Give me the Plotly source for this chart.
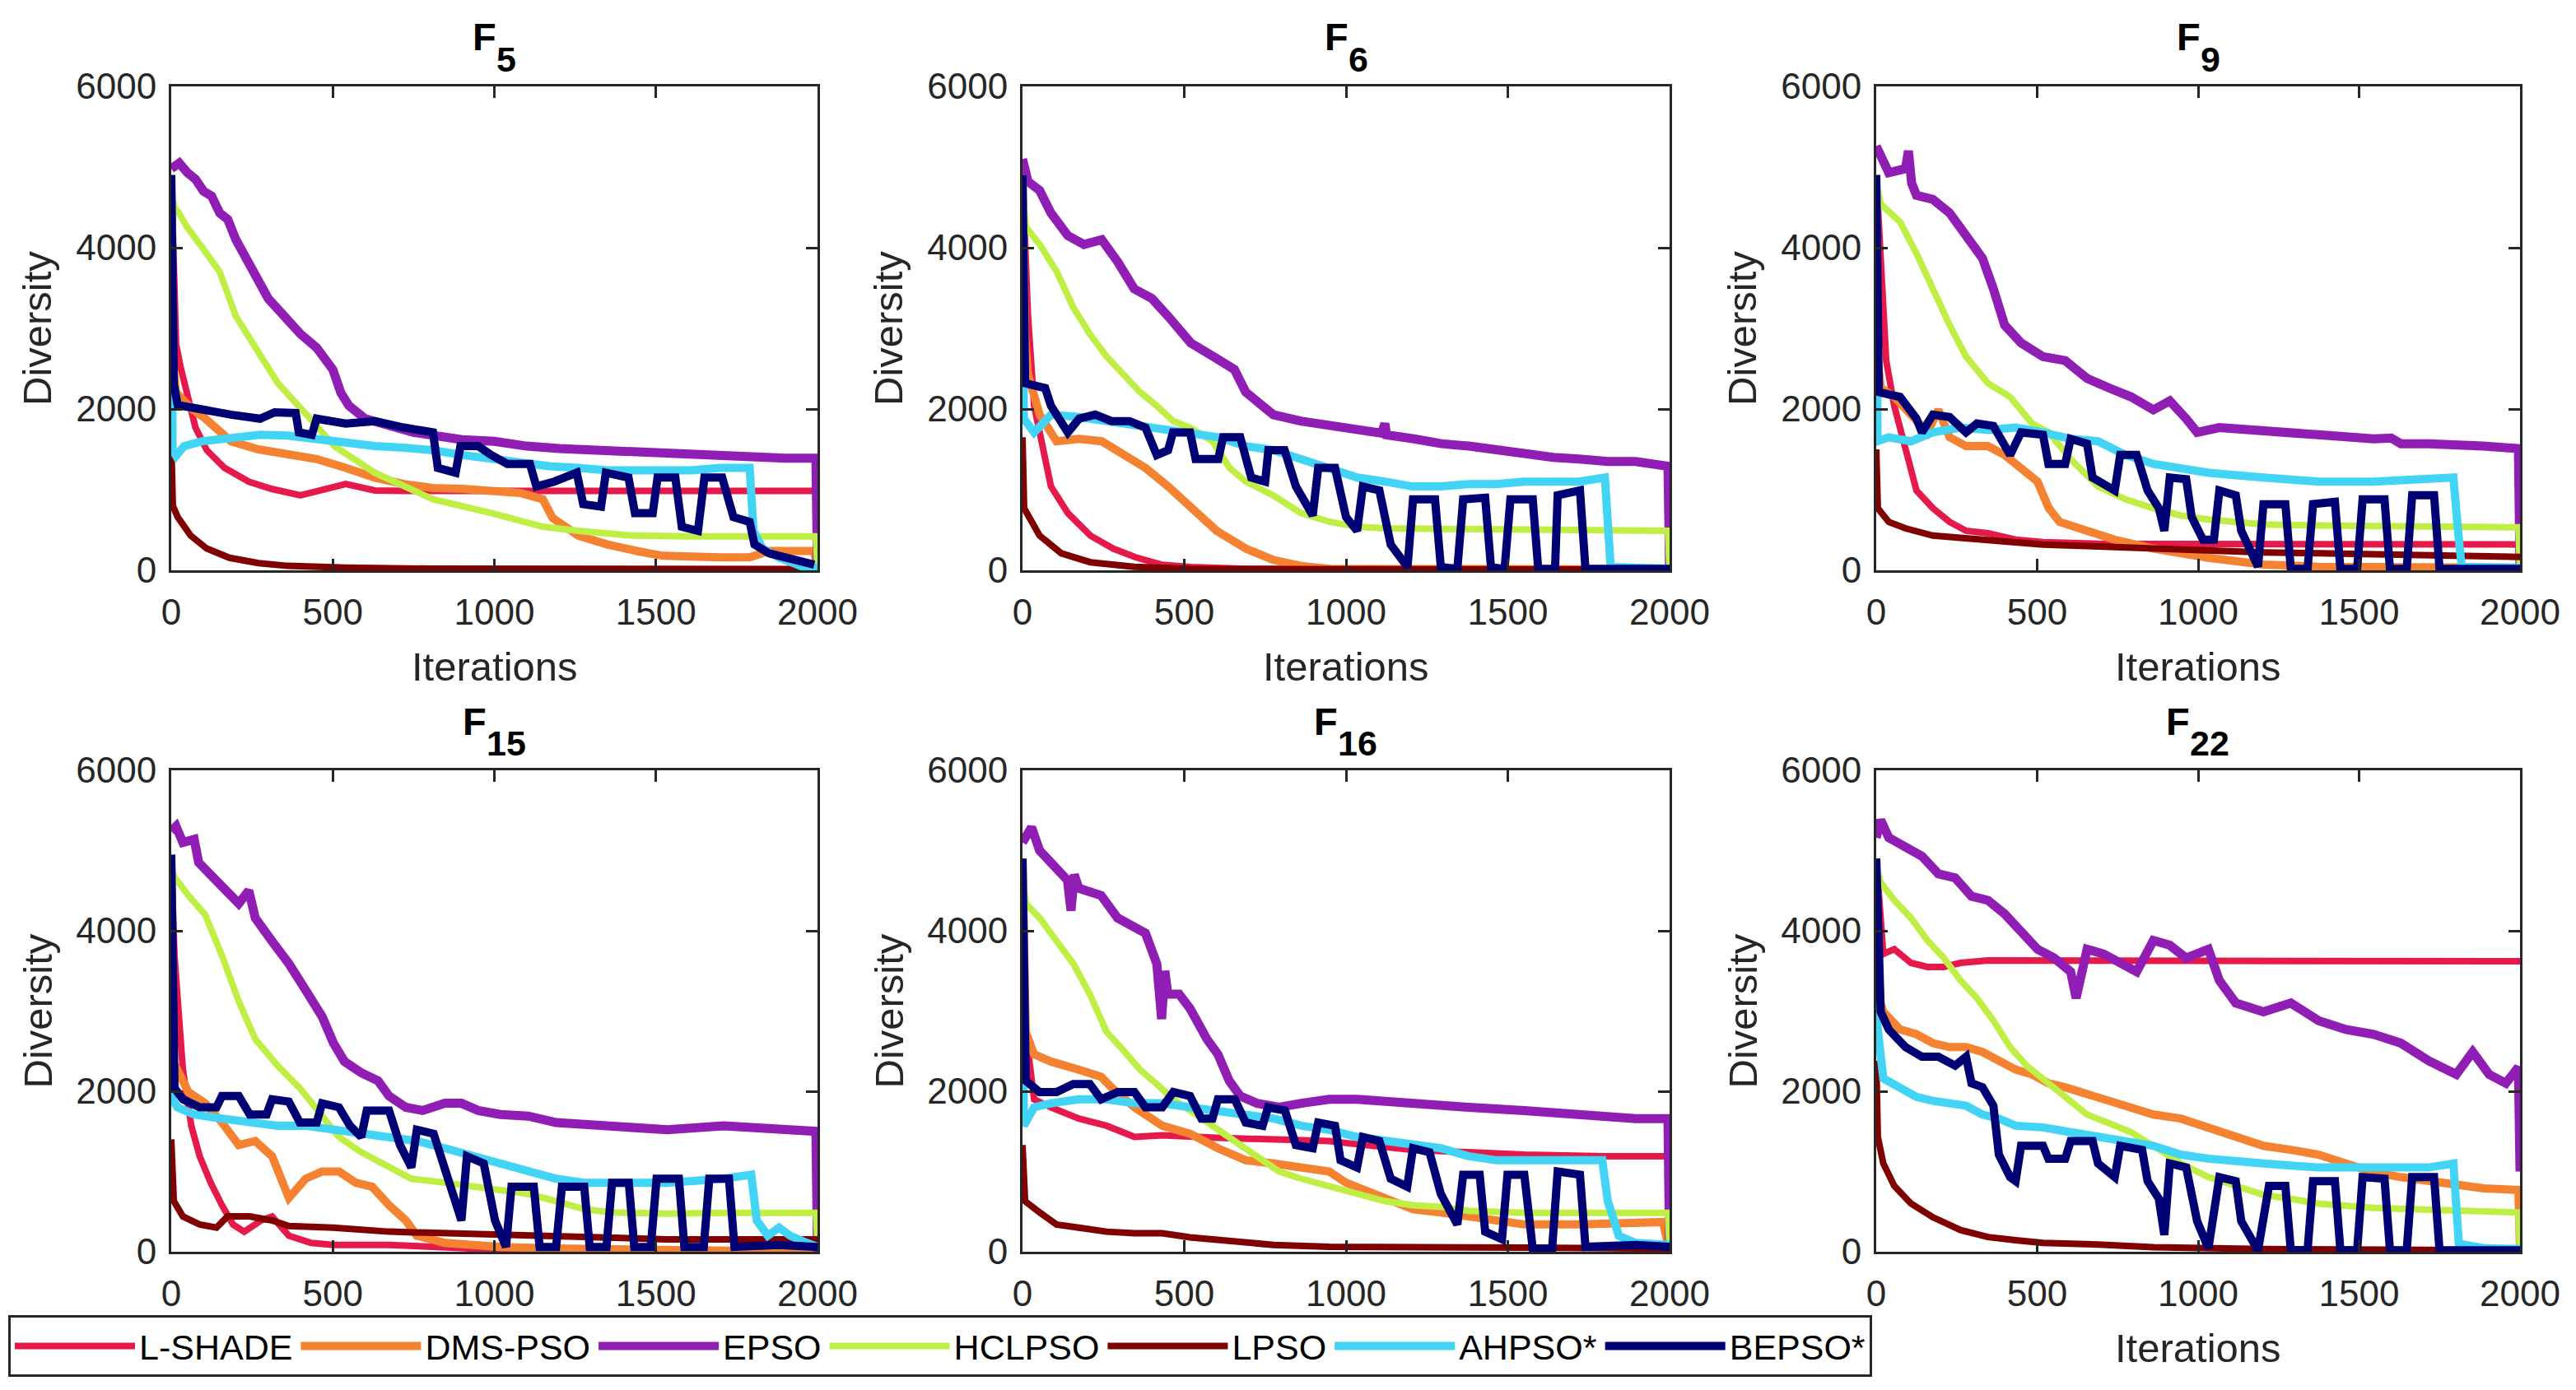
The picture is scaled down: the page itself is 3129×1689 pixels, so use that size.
import plotly.graph_objects as go

W, H = 3129, 1689

NAMES = ["L-SHADE", "DMS-PSO", "EPSO", "HCLPSO", "LPSO", "AHPSO*", "BEPSO*"]
COLORS = ["#e6194b", "#f58231", "#911eb4", "#bfef45", "#800000", "#42d4f4", "#000075"]
WIDTHS = [8, 10, 11, 8, 8, 10, 10]
FUNCS = ["5", "6", "9", "15", "16", "22"]
X_TICKS = [0, 500, 1000, 1500, 2000]
Y_TICKS = [0, 2000, 4000, 6000]

# (iteration, diversity) pairs
F5_LSHADE = [(0, 4900), (8, 3700), (15, 2800), (30, 2500), (50, 2150), (75, 1770), (110, 1490), (165, 1270),
             (240, 1100), (310, 1010), (400, 930), (470, 990), (540, 1070), (630, 990), (720, 985), (2000, 985)]
F5_DMSPSO = [(0, 4900), (5, 2600), (15, 2200), (40, 2100), (70, 1980), (100, 1900), (140, 1750), (185, 1600),
             (270, 1500), (360, 1430), (450, 1380), (540, 1270), (630, 1150), (720, 1070), (810, 1020), (900, 1010),
             (990, 990), (1080, 960), (1150, 880), (1180, 650), (1260, 430), (1350, 320), (1440, 240), (1520, 180),
             (1700, 160), (1790, 160), (1850, 240), (1990, 240), (2000, 0)]
F5_EPSO = [(0, 4980), (25, 5050), (50, 4930), (75, 4850), (100, 4700), (125, 4640), (150, 4430), (175, 4350),
           (200, 4100), (250, 3760), (300, 3370), (350, 3150), (400, 2930), (450, 2760), (500, 2490), (525, 2200),
           (550, 2040), (600, 1880), (650, 1820), (700, 1770), (750, 1710), (800, 1680), (850, 1650), (900, 1620),
           (1000, 1600), (1100, 1540), (1200, 1510), (1300, 1490), (1400, 1470), (1500, 1450), (1600, 1430),
           (1700, 1420), (1800, 1400), (1900, 1390), (1995, 1390), (2000, 0)]
F5_HCLPSO = [(0, 4700), (10, 4500), (25, 4420), (50, 4250), (100, 3980), (150, 3700), (200, 3150), (270, 2710),
             (330, 2320), (430, 1880), (505, 1540), (630, 1210), (720, 1040), (810, 880), (990, 710), (1150, 540),
             (1260, 490), (1430, 430), (1600, 420), (1995, 420), (2000, 0)]
F5_LPSO = [(0, 1600), (5, 800), (20, 660), (60, 430), (110, 270), (180, 155), (270, 90), (360, 55), (540, 33),
           (800, 20), (2000, 15)]
F5_AHPSO = [(0, 4900), (4, 1500), (15, 1420), (40, 1540), (95, 1600), (185, 1650), (275, 1680), (360, 1670),
            (450, 1630), (540, 1570), (630, 1540), (720, 1520), (810, 1490), (900, 1430), (990, 1380), (1080, 1350),
            (1170, 1290), (1260, 1270), (1350, 1240), (1610, 1240), (1700, 1270), (1790, 1270), (1802, 490),
            (1830, 270), (1880, 160), (1950, 50), (2000, 30)]
F5_BEPSO = [(0, 4900), (8, 2300), (20, 2050), (95, 1990), (185, 1930), (275, 1880), (320, 1960), (385, 1950),
            (395, 1710), (435, 1680), (450, 1880), (540, 1820), (630, 1850), (720, 1770), (810, 1710), (825, 1270),
            (880, 1210), (895, 1540), (950, 1540), (990, 1430), (1040, 1320), (1110, 1320), (1130, 1040),
            (1185, 1100), (1255, 1210), (1275, 820), (1330, 790), (1345, 1210), (1415, 1150), (1435, 710),
            (1490, 710), (1505, 1150), (1560, 1150), (1580, 540), (1630, 490), (1650, 1150), (1705, 1150),
            (1740, 660), (1790, 600), (1805, 320), (1850, 210), (1990, 70)]

F6_LSHADE = [(0, 4900), (8, 4000), (17, 3150), (36, 2040), (62, 1490), (88, 1040), (140, 710), (210, 430),
             (280, 270), (350, 160), (430, 70), (520, 40), (690, 17), (2000, 10)]
F6_DMSPSO = [(0, 4900), (8, 2900), (17, 2430), (53, 1930), (105, 1600), (175, 1630), (245, 1600), (310, 1430),
             (380, 1270), (450, 1040), (520, 770), (600, 490), (690, 270), (775, 130), (860, 55), (950, 17),
             (2000, 10)]
F6_EPSO = [(0, 5100), (17, 4820), (53, 4710), (88, 4430), (140, 4150), (190, 4040), (245, 4100), (295, 3820),
           (345, 3490), (400, 3370), (450, 3150), (520, 2820), (590, 2650), (655, 2490), (690, 2210), (725, 2100),
           (775, 1930), (860, 1850), (950, 1790), (1035, 1740), (1110, 1700), (1120, 1820), (1125, 1680),
           (1210, 1630), (1295, 1570), (1380, 1540), (1465, 1490), (1550, 1460), (1640, 1400), (1720, 1380),
           (1810, 1350), (1895, 1350), (1995, 1290), (2000, 0)]
F6_HCLPSO = [(0, 4700), (10, 4260), (53, 4040), (105, 3710), (157, 3260), (208, 2930), (260, 2650), (312, 2430),
             (363, 2210), (415, 2040), (466, 1850), (518, 1770), (587, 1600), (640, 1270), (690, 1100), (775, 930),
             (860, 710), (950, 600), (1035, 540), (1120, 520), (1995, 490), (2000, 0)]
F6_LPSO = [(0, 1650), (5, 770), (53, 430), (120, 210), (210, 100), (345, 44), (520, 17), (2000, 10)]
F6_AHPSO = [(0, 4900), (4, 1880), (36, 1710), (88, 1930), (175, 1900), (260, 1850), (345, 1820), (430, 1770),
            (520, 1710), (605, 1650), (690, 1540), (775, 1490), (860, 1380), (950, 1270), (1035, 1150), (1120, 1100),
            (1205, 1040), (1295, 1040), (1380, 1070), (1465, 1070), (1550, 1100), (1640, 1100), (1720, 1100),
            (1800, 1150), (1810, 380), (1818, 40), (2000, 20)]
F6_BEPSO = [(0, 4900), (8, 2320), (70, 2260), (88, 2040), (140, 1710), (175, 1880), (225, 1930), (275, 1850),
            (330, 1850), (380, 1770), (415, 1430), (450, 1490), (465, 1710), (518, 1710), (535, 1380), (605, 1380),
            (620, 1650), (673, 1650), (707, 1150), (750, 1100), (760, 1490), (810, 1490), (845, 1040), (880, 770),
            (897, 680), (914, 1270), (966, 1270), (1000, 660), (1034, 490), (1052, 1040), (1103, 990), (1138, 320),
            (1190, 40), (1207, 880), (1275, 880), (1293, 40), (1344, 17), (1362, 880), (1430, 900), (1448, 40),
            (1490, 17), (1508, 880), (1577, 880), (1594, 17), (1646, 17), (1654, 930), (1723, 990), (1740, 17),
            (2000, 17)]

F9_LSHADE = [(0, 4900), (14, 3930), (31, 2600), (56, 2040), (91, 1490), (125, 990), (176, 770), (228, 600),
             (279, 490), (347, 460), (433, 380), (518, 350), (689, 330), (2000, 320)]
F9_DMSPSO = [(0, 4900), (5, 2600), (14, 2260), (56, 2150), (108, 1930), (159, 1710), (193, 1990), (228, 1650),
             (279, 1540), (347, 1540), (399, 1430), (450, 1270), (501, 1100), (536, 770), (570, 600), (655, 490),
             (741, 380), (861, 270), (1032, 155), (1203, 72), (1374, 44), (1990, 33), (2000, 0)]
F9_EPSO = [(0, 5260), (39, 4930), (91, 4980), (100, 5200), (110, 4800), (125, 4650), (176, 4600), (228, 4430),
           (279, 4150), (330, 3870), (364, 3490), (399, 3040), (450, 2820), (518, 2650), (587, 2600), (655, 2380),
           (724, 2260), (792, 2150), (861, 1990), (912, 2100), (963, 1880), (997, 1710), (1066, 1770), (1203, 1740),
           (1374, 1680), (1545, 1630), (1600, 1640), (1630, 1570), (1716, 1570), (1887, 1540), (1995, 1510),
           (2000, 0)]
F9_HCLPSO = [(0, 4800), (14, 4540), (74, 4320), (125, 3930), (176, 3490), (228, 3040), (279, 2650), (347, 2320),
             (416, 2150), (484, 1820), (536, 1710), (604, 1380), (689, 1040), (775, 880), (861, 770), (946, 680),
             (1032, 630), (1203, 570), (1374, 555), (1545, 545), (1716, 533), (1995, 533), (2000, 0)]
F9_LPSO = [(0, 1500), (5, 770), (39, 600), (91, 520), (176, 430), (262, 405), (347, 380), (518, 320), (689, 295),
           (861, 266), (1032, 240), (1203, 222), (1374, 211), (1545, 200), (1716, 183), (2000, 166)]
F9_AHPSO = [(0, 4900), (4, 1600), (39, 1650), (108, 1600), (176, 1710), (262, 1770), (347, 1740), (433, 1770),
            (518, 1710), (604, 1630), (689, 1600), (775, 1430), (861, 1320), (946, 1270), (1032, 1210), (1203, 1150),
            (1374, 1100), (1545, 1100), (1716, 1130), (1793, 1150), (1810, 380), (1819, 44), (2000, 30)]
F9_BEPSO = [(0, 4900), (8, 2210), (74, 2150), (125, 1880), (142, 1710), (176, 1930), (228, 1900), (279, 1710),
            (313, 1820), (364, 1790), (416, 1430), (450, 1710), (518, 1680), (535, 1320), (587, 1320), (604, 1630),
            (655, 1570), (672, 1150), (741, 990), (758, 1430), (809, 1430), (843, 990), (878, 770), (895, 490),
            (912, 1150), (963, 1130), (980, 660), (1015, 380), (1049, 380), (1066, 990), (1117, 930), (1134, 490),
            (1186, 44), (1203, 820), (1271, 820), (1288, 17), (1340, 17), (1357, 820), (1425, 850), (1442, 17),
            (1494, 17), (1511, 880), (1579, 880), (1596, 17), (1648, 17), (1665, 930), (1733, 930), (1750, 17),
            (2000, 17)]

F15_LSHADE = [(0, 4900), (10, 3690), (36, 2270), (62, 1570), (88, 1190), (122, 860), (157, 580), (191, 340),
              (226, 250), (260, 330), (278, 390), (312, 440), (364, 200), (433, 110), (502, 85), (674, 85),
              (847, 52), (1019, 24), (2000, 10)]
F15_DMSPSO = [(0, 4900), (5, 2370), (19, 2270), (53, 1990), (105, 1850), (157, 1610), (209, 1330), (260, 1380),
              (312, 1190), (364, 670), (416, 910), (467, 1000), (519, 1000), (571, 860), (622, 810), (674, 580),
              (726, 390), (760, 200), (847, 110), (1019, 60), (1191, 40), (1990, 24), (2000, 0)]
F15_EPSO = [(0, 5240), (15, 5300), (36, 5100), (71, 5140), (85, 4850), (105, 4770), (157, 4530), (209, 4340),
            (240, 4500), (260, 4160), (312, 3870), (364, 3590), (416, 3260), (467, 2930), (502, 2600), (536, 2370),
            (588, 2230), (640, 2130), (674, 1940), (726, 1800), (778, 1760), (847, 1850), (898, 1850), (950, 1760),
            (1019, 1710), (1105, 1690), (1191, 1610), (1364, 1570), (1536, 1520), (1709, 1570), (1881, 1520),
            (1995, 1500), (2000, 0)]
F15_HCLPSO = [(0, 4800), (10, 4670), (53, 4440), (105, 4200), (157, 3690), (209, 3120), (260, 2650), (329, 2320),
              (398, 2040), (467, 1710), (519, 1430), (588, 1240), (674, 1050), (743, 910), (847, 860), (933, 810),
              (1019, 770), (1105, 720), (1191, 630), (1278, 530), (1364, 490), (1536, 475), (1709, 485),
              (1995, 485), (2000, 100)]
F15_LPSO = [(0, 1400), (8, 630), (36, 440), (88, 340), (140, 300), (174, 440), (243, 440), (312, 390), (364, 320),
            (502, 300), (674, 250), (847, 230), (1019, 200), (1191, 180), (1364, 165), (1536, 155), (2000, 155)]
F15_AHPSO = [(0, 4900), (4, 1900), (19, 1800), (71, 1710), (157, 1660), (243, 1610), (329, 1570), (416, 1570),
             (502, 1520), (588, 1470), (674, 1430), (760, 1380), (847, 1290), (933, 1190), (1019, 1100), (1105, 1000),
             (1191, 910), (1278, 860), (1536, 860), (1709, 910), (1795, 960), (1812, 390), (1846, 200), (1881, 300),
             (1915, 200), (1967, 110), (2000, 60)]
F15_BEPSO = [(0, 4950), (10, 2040), (36, 1900), (88, 1800), (140, 1800), (157, 1940), (209, 1940), (243, 1710),
             (295, 1710), (312, 1900), (364, 1870), (398, 1610), (450, 1610), (467, 1850), (519, 1800), (553, 1570),
             (588, 1430), (605, 1760), (674, 1760), (708, 1330), (743, 1050), (760, 1520), (812, 1470), (847, 1000),
             (898, 390), (915, 1190), (967, 1100), (1002, 390), (1036, 60), (1053, 810), (1122, 810), (1140, 60),
             (1191, 60), (1209, 810), (1278, 810), (1295, 60), (1347, 60), (1364, 860), (1416, 860), (1433, 60),
             (1484, 60), (1502, 910), (1571, 910), (1588, 60), (1648, 60), (1665, 910), (1726, 910), (1743, 60),
             (1881, 85), (2000, 60)]

F16_LSHADE = [(0, 4900), (10, 2740), (36, 1900), (88, 1800), (174, 1660), (260, 1570), (346, 1430), (432, 1450),
              (600, 1420), (776, 1410), (948, 1380), (1034, 1340), (1207, 1270), (1379, 1240), (1551, 1210),
              (1800, 1190), (2000, 1190)]
F16_DMSPSO = [(0, 4900), (10, 2740), (36, 2460), (88, 2370), (174, 2270), (243, 2180), (277, 2040), (346, 1800),
              (432, 1570), (518, 1470), (604, 1290), (690, 1140), (776, 1100), (862, 1050), (948, 1000), (1000, 860),
              (1034, 810), (1120, 670), (1207, 530), (1293, 490), (1379, 440), (1465, 370), (1551, 340), (1723, 340),
              (1980, 370), (2000, 0)]
F16_EPSO = [(0, 5100), (28, 5290), (53, 5000), (105, 4770), (139, 4630), (150, 4250), (160, 4700), (174, 4530),
            (243, 4440), (294, 4160), (346, 4060), (380, 3970), (415, 3590), (430, 2900), (440, 3500), (449, 3210),
            (484, 3210), (518, 3030), (570, 2650), (604, 2460), (639, 2130), (673, 1940), (725, 1850), (793, 1800),
            (862, 1850), (948, 1900), (1034, 1900), (1120, 1870), (1207, 1850), (1379, 1800), (1551, 1760),
            (1723, 1710), (1895, 1660), (1995, 1660), (2000, 0)]
F16_HCLPSO = [(0, 4700), (10, 4340), (53, 4160), (105, 3870), (157, 3590), (208, 3210), (260, 2740), (312, 2510),
              (363, 2270), (415, 2090), (466, 1900), (518, 1760), (587, 1570), (656, 1380), (725, 1190), (793, 1000),
              (862, 910), (948, 810), (1034, 720), (1120, 630), (1207, 580), (1293, 560), (1379, 510), (1551, 485),
              (1995, 485), (2000, 0)]
F16_LPSO = [(0, 1330), (8, 630), (53, 490), (105, 340), (174, 300), (260, 250), (346, 230), (432, 230), (518, 180),
            (604, 155), (690, 110), (776, 85), (948, 61), (1207, 61), (1551, 52), (2000, 38)]
F16_AHPSO = [(0, 4900), (4, 1570), (36, 1800), (88, 1850), (174, 1900), (260, 1900), (346, 1850), (432, 1850),
             (518, 1800), (604, 1760), (690, 1710), (776, 1660), (862, 1570), (948, 1520), (1034, 1430), (1120, 1380),
             (1207, 1330), (1293, 1290), (1379, 1190), (1465, 1140), (1792, 1140), (1809, 630), (1843, 200),
             (1895, 110), (2000, 85)]
F16_BEPSO = [(0, 4900), (10, 2130), (53, 1990), (105, 1990), (157, 2090), (208, 2090), (243, 1900), (294, 1990),
             (346, 1990), (380, 1800), (432, 1800), (466, 1990), (518, 1940), (553, 1660), (587, 1660), (604, 1900),
             (656, 1900), (690, 1610), (742, 1570), (759, 1800), (811, 1760), (845, 1330), (897, 1290), (914, 1610),
             (966, 1570), (983, 1140), (1034, 1050), (1052, 1430), (1103, 1380), (1138, 910), (1189, 810),
             (1207, 1290), (1258, 1240), (1293, 720), (1344, 340), (1362, 960), (1413, 960), (1430, 250),
             (1482, 155), (1499, 960), (1551, 960), (1577, 38), (1637, 38), (1654, 1000), (1723, 960), (1740, 61),
             (1895, 85), (2000, 61)]

F22_LSHADE = [(0, 4900), (14, 4210), (22, 3710), (56, 3770), (108, 3600), (159, 3550), (210, 3550), (262, 3600),
              (347, 3630), (2000, 3620)]
F22_DMSPSO = [(0, 4900), (5, 3210), (22, 2990), (74, 2770), (125, 2710), (176, 2600), (228, 2550), (279, 2550),
              (330, 2490), (381, 2380), (433, 2270), (484, 2210), (535, 2100), (587, 2050), (638, 1990), (689, 1930),
              (775, 1820), (861, 1710), (946, 1660), (1032, 1550), (1117, 1430), (1203, 1320), (1288, 1270),
              (1374, 1210), (1459, 1100), (1545, 990), (1630, 930), (1716, 880), (1802, 820), (1887, 790),
              (1995, 770), (2000, 0)]
F22_EPSO = [(0, 5160), (14, 5380), (39, 5160), (91, 5050), (142, 4930), (193, 4710), (245, 4660), (296, 4430),
            (347, 4380), (399, 4210), (450, 3990), (501, 3770), (553, 3660), (604, 3490), (621, 3160), (655, 3770),
            (707, 3710), (758, 3600), (809, 3490), (861, 3880), (912, 3820), (963, 3660), (1032, 3770), (1066, 3380),
            (1117, 3100), (1203, 2990), (1288, 3100), (1374, 2880), (1459, 2770), (1545, 2710), (1630, 2600),
            (1716, 2380), (1802, 2210), (1853, 2490), (1904, 2210), (1956, 2100), (1995, 2300), (2000, 1000)]
F22_HCLPSO = [(0, 4800), (14, 4600), (56, 4380), (108, 4160), (159, 3880), (210, 3660), (262, 3380), (313, 3160),
              (364, 2880), (416, 2550), (467, 2320), (518, 2160), (587, 1930), (655, 1710), (724, 1600), (792, 1490),
              (861, 1320), (946, 1100), (1032, 930), (1117, 820), (1203, 710), (1288, 660), (1374, 600), (1545, 545),
              (1716, 517), (1995, 490), (2000, 0)]
F22_LPSO = [(0, 2380), (5, 1430), (22, 1100), (56, 820), (108, 600), (176, 430), (262, 270), (347, 183), (433, 144),
            (518, 111), (689, 89), (861, 56), (1203, 33), (2000, 17)]
F22_AHPSO = [(0, 4900), (4, 2800), (22, 2160), (74, 2050), (125, 1930), (176, 1880), (228, 1850), (279, 1820),
             (330, 1710), (381, 1660), (433, 1570), (518, 1550), (604, 1490), (689, 1430), (775, 1380), (861, 1320),
             (946, 1210), (1032, 1160), (1203, 1100), (1374, 1050), (1545, 1050), (1716, 1050), (1793, 1100),
             (1810, 100), (1887, 44), (2000, 33)]
F22_BEPSO = [(0, 4900), (14, 2990), (39, 2770), (91, 2550), (142, 2430), (193, 2430), (245, 2320), (279, 2430),
             (296, 2100), (330, 2050), (364, 1820), (381, 1210), (416, 930), (433, 880), (450, 1320), (518, 1320),
             (535, 1160), (587, 1160), (604, 1380), (672, 1380), (689, 1100), (741, 930), (758, 1320), (826, 1270),
             (843, 880), (878, 660), (895, 210), (912, 1100), (963, 1050), (997, 380), (1032, 44), (1066, 930),
             (1117, 880), (1134, 380), (1186, 17), (1220, 820), (1271, 820), (1288, 17), (1340, 17), (1357, 880),
             (1425, 880), (1442, 17), (1494, 17), (1511, 930), (1579, 910), (1596, 17), (1648, 17), (1665, 930),
             (1733, 930), (1750, 17), (2000, 17)]

PANELS = [
    [F5_LSHADE, F5_DMSPSO, F5_EPSO, F5_HCLPSO, F5_LPSO, F5_AHPSO, F5_BEPSO],
    [F6_LSHADE, F6_DMSPSO, F6_EPSO, F6_HCLPSO, F6_LPSO, F6_AHPSO, F6_BEPSO],
    [F9_LSHADE, F9_DMSPSO, F9_EPSO, F9_HCLPSO, F9_LPSO, F9_AHPSO, F9_BEPSO],
    [F15_LSHADE, F15_DMSPSO, F15_EPSO, F15_HCLPSO, F15_LPSO, F15_AHPSO, F15_BEPSO],
    [F16_LSHADE, F16_DMSPSO, F16_EPSO, F16_HCLPSO, F16_LPSO, F16_AHPSO, F16_BEPSO],
    [F22_LSHADE, F22_DMSPSO, F22_EPSO, F22_HCLPSO, F22_LPSO, F22_AHPSO, F22_BEPSO],
]

FONT = "Liberation Sans, Arial, Helvetica, sans-serif"
AXCOL = "#262626"

# plot areas in pixels (left, right) and (top, bottom)
cols_px = [(208, 993), (1242, 2028), (2279, 3061)]
rows_px = [(105, 693), (936, 1521)]

fig = go.Figure()
annotations = []

for i, series in enumerate(PANELS):
    r, c = divmod(i, 3)
    left, right = cols_px[c]
    top, bottom = rows_px[r]
    xd = [left / W, right / W]
    yd = [1 - bottom / H, 1 - top / H]
    xc = (xd[0] + xd[1]) / 2
    sfx = "" if i == 0 else str(i + 1)

    for k, pts in enumerate(series):
        fig.add_trace(go.Scatter(
            x=[p[0] for p in pts],
            y=[p[1] for p in pts],
            mode="lines",
            name=NAMES[k],
            line=dict(color=COLORS[k], width=WIDTHS[k]),
            showlegend=(i == 0),
            xaxis="x" + sfx,
            yaxis="y" + sfx,
        ))

    common = dict(
        showline=True, mirror="ticks", linecolor=AXCOL, linewidth=3,
        ticks="inside", ticklen=14, tickwidth=3, tickcolor=AXCOL,
        showgrid=False, zeroline=False, automargin=False,
        tickfont=dict(family=FONT, size=44, color=AXCOL),
    )
    fig.layout["xaxis" + sfx] = dict(
        domain=xd, range=[0, 2000], tickvals=X_TICKS, anchor="y" + sfx,
        ticklabelstandoff=10, **common)
    fig.layout["yaxis" + sfx] = dict(
        domain=yd, range=[0, 6000], tickvals=Y_TICKS, anchor="x" + sfx,
        ticklabelstandoff=6, **common)

    # panel title: bold F with a lowered, nearly full-size index
    w_f = 28
    w_sub = 25 * len(FUNCS[i])
    start = -(w_f + 2 + w_sub) / 2
    annotations.append(dict(
        text="<b>F</b>", xref="paper", yref="paper",
        x=xc, y=yd[1], xanchor="left", yanchor="middle", xshift=start - 1, yshift=60,
        showarrow=False, font=dict(family=FONT, size=47, color="black")))
    annotations.append(dict(
        text="<b>" + FUNCS[i] + "</b>", xref="paper", yref="paper",
        x=xc, y=yd[1], xanchor="left", yanchor="middle", xshift=start + w_f, yshift=33,
        showarrow=False, font=dict(family=FONT, size=43, color="black")))
    # y title
    annotations.append(dict(
        text="Diversity", xref="paper", yref="paper", textangle=-90,
        x=(left - 163) / W, y=(yd[0] + yd[1]) / 2, xanchor="center", yanchor="middle",
        showarrow=False, font=dict(family=FONT, size=49, color=AXCOL)))
    # x title (hidden behind legend for F15, F16)
    if i not in (3, 4):
        annotations.append(dict(
            text="Iterations", xref="paper", yref="paper",
            x=xc, y=1 - (bottom + 117) / H, xanchor="center", yanchor="middle",
            showarrow=False, font=dict(family=FONT, size=49, color=AXCOL)))

fig.update_layout(
    width=W, height=H,
    margin=dict(l=0, r=0, t=0, b=0, autoexpand=False),
    paper_bgcolor="white", plot_bgcolor="white",
    annotations=annotations,
    font=dict(family=FONT),
    legend=dict(
        orientation="h", x=10 / W, y=1 - 1598 / H, xanchor="left", yanchor="top",
        bgcolor="white", bordercolor=AXCOL, borderwidth=3,
        font=dict(family=FONT, size=43, color="black"),
        itemwidth=146, tracegroupgap=0,
    ),
)

fig.write_html("out.html", config={"displayModeBar": False},
               post_script="document.body.style.margin='0px';")
